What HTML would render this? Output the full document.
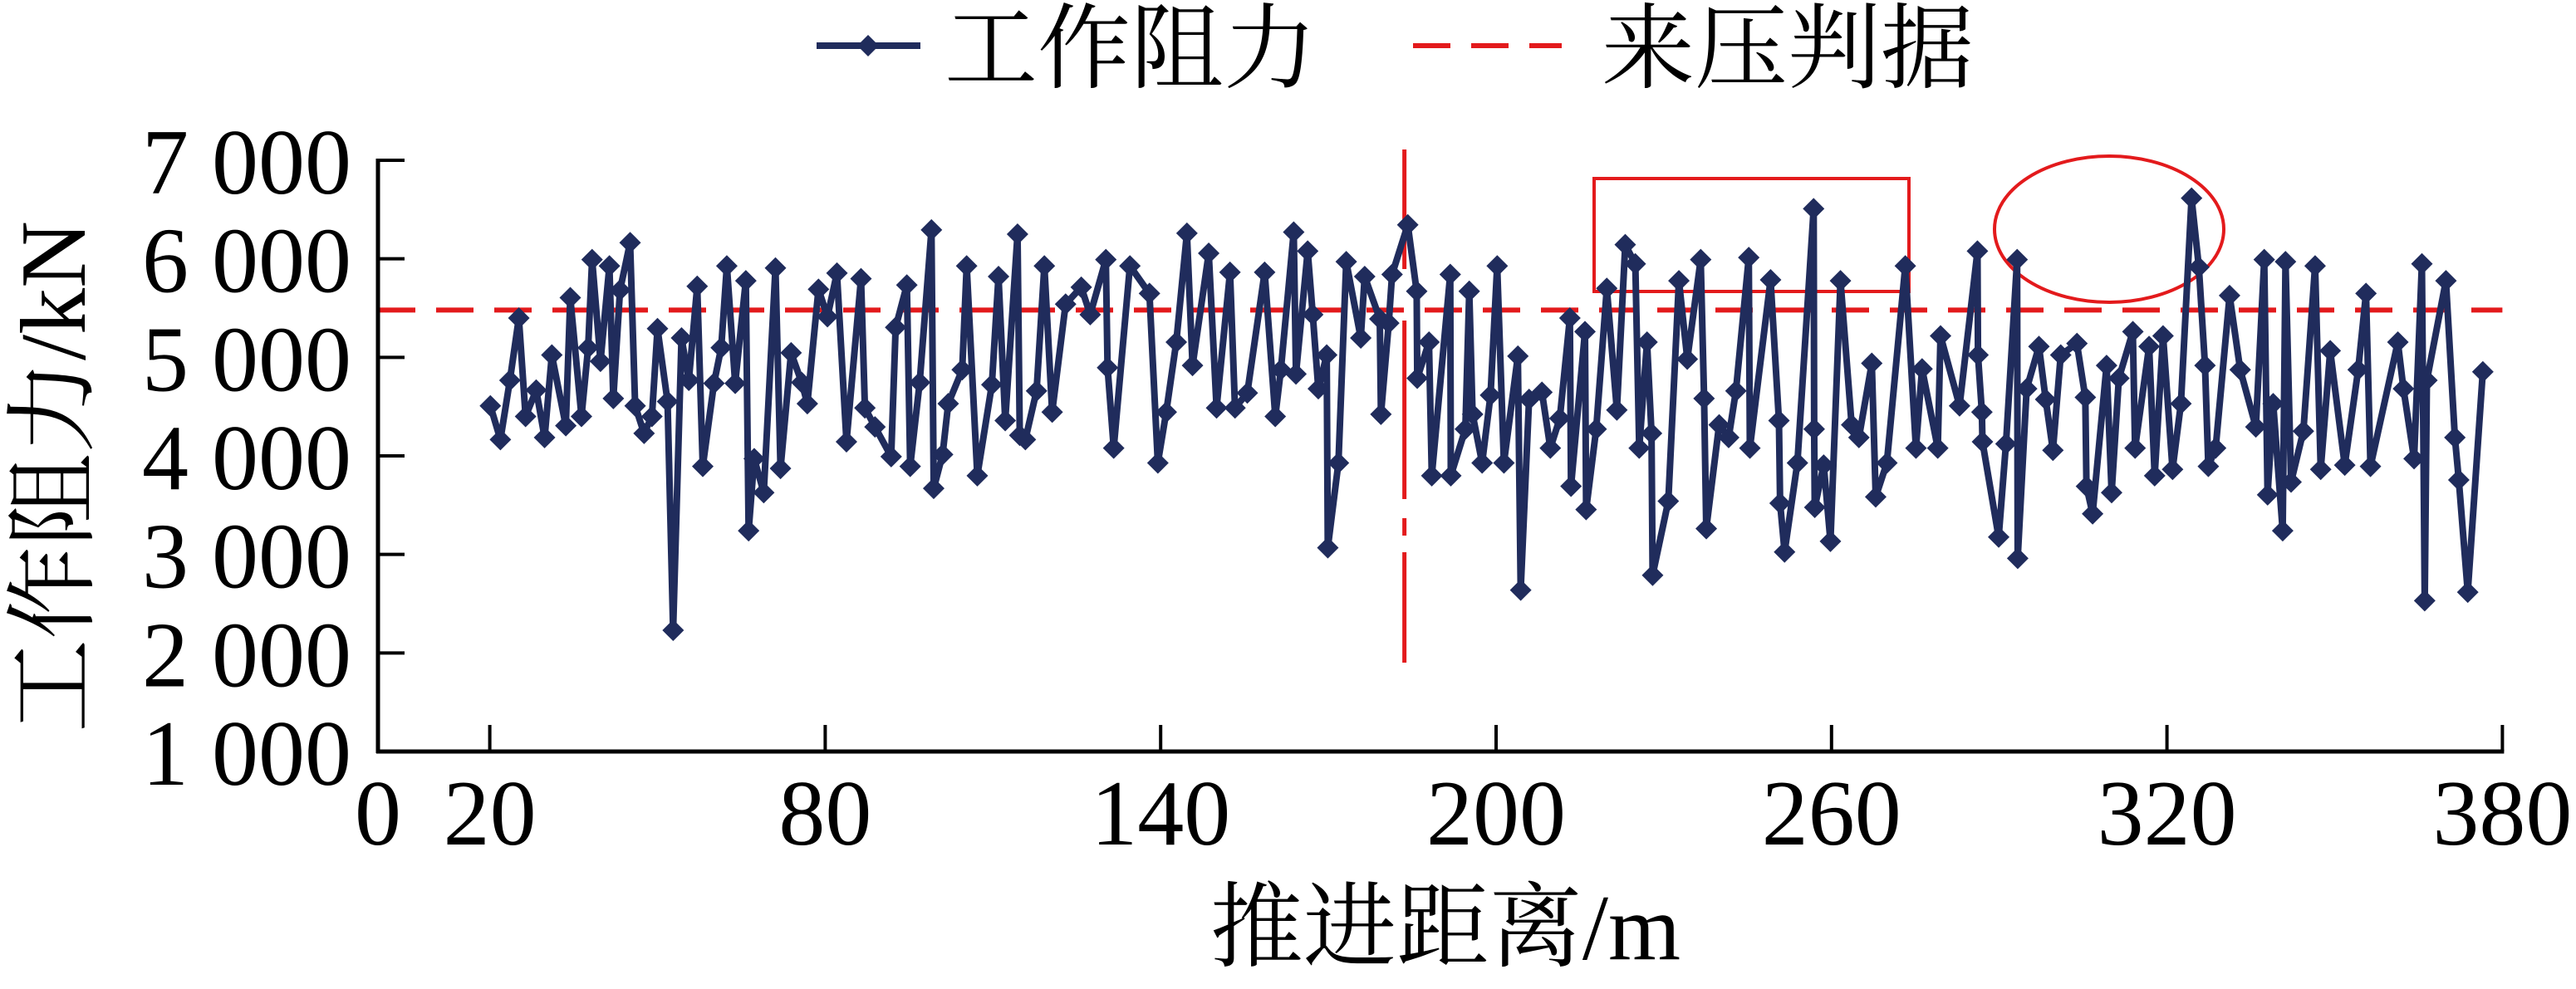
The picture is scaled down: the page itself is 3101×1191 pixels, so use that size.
<!DOCTYPE html>
<html><head><meta charset="utf-8"><style>
html,body{margin:0;padding:0;background:#fff;}
svg{display:block;}
text{font-family:"Liberation Serif","Noto Serif CJK SC",serif;fill:#000;}
</style></head><body>
<svg id="chart" width="3101" height="1191" viewBox="0 0 3101 1191" xmlns="http://www.w3.org/2000/svg">
<g id="plot"></g>
<g id="axes"></g>
<g id="legend">
  <line x1="983" y1="55" x2="1108" y2="55" stroke="#202c5c" stroke-width="8"/>
  <polygon points="1045,42 1058,55 1045,68 1032,55" fill="#202c5c"/>
  <text x="1137" y="97" font-size="112">工作阻力</text>
  <line x1="1701" y1="55" x2="1880" y2="55" stroke="#e31a1c" stroke-width="6" stroke-dasharray="45,25"/>
  <text x="1928" y="97" font-size="112">来压判据</text>
</g>
<text transform="translate(102,574) rotate(-90)" text-anchor="middle" font-size="112">工作阻力/kN</text>
<text x="1740" y="1155" text-anchor="middle" font-size="112">推进距离/m</text>
</svg>
<script>
const distance = [20.1,21.9,23.6,25.2,26.4,28.3,29.8,31.1,33.6,34.4,36.4,37.6,38.3,39.8,41.4,42.1,43.3,45.1,46.0,47.6,49.0,50.0,51.8,52.8,54.3,55.6,57.1,58.1,60.1,61.4,62.4,63.9,65.8,66.3,67.3,69.0,71.1,72.0,73.9,75.8,76.8,78.8,80.4,82.1,83.8,86.4,87.1,88.9,91.8,92.6,94.6,95.2,96.9,99.0,99.4,101.0,102.0,
104.5,105.3,107.2,109.8,111.0,112.2,114.4,114.8,115.8,117.8,119.2,120.6,123.0,125.8,127.4,130.2,130.5,131.6,134.5,138.0,139.5,141.0,142.8,144.7,145.7,148.6,150.0,152.4,153.3,155.5,158.6,160.5,161.5,163.8,164.2,166.3,167.2,168.2,169.7,169.9,171.8,173.2,175.8,176.5,179.2,179.4,180.8,181.4,184.2,185.8,185.9,188.0,188.5,191.8,191.9,194.5,195.2,195.8,197.5,199.0,200.2,
201.4,203.9,204.4,205.9,208.2,209.7,211.4,213.2,213.4,215.9,216.1,217.9,219.8,221.6,223.1,224.9,225.6,227.0,227.8,228.0,230.8,232.7,234.2,236.6,237.2,237.6,239.9,241.6,242.9,245.2,245.4,249.1,250.6,250.8,251.6,253.9,256.8,256.9,257.0,258.6,259.8,261.6,263.6,264.9,267.2,267.9,269.9,273.2,275.1,276.2,279.0,279.5,282.9,286.1,286.2,286.9,287.0,289.9,291.2,293.2,293.3,
294.9,297.1,298.3,299.6,301.0,303.9,305.4,305.6,306.7,309.2,310.1,311.4,313.9,314.3,316.8,317.8,319.3,321.0,322.5,324.4,325.7,326.8,327.4,328.7,331.2,333.1,335.9,337.4,338.0,339.0,340.7,341.2,342.2,344.4,346.5,347.5,349.2,351.8,354.2,355.6,356.4,361.3,362.3,364.2,365.6,366.1,366.5,369.9,371.5,372.2,373.8,376.5];
const resistance = [4508,4165,4767,5399,4400,4668,4186,5024,4306,5605,4400,5098,5992,4960,5928,4582,5682,6164,4508,4229,4400,5291,4552,2230,5197,4767,5721,3894,4736,5098,5928,4736,5777,3240,3971,3627,5906,3872,5046,4745,4530,5691,5412,5855,4143,5798,4487,4294,3993,5304,5734,3894,4745,6293,3670,4014,4530,
4874,5928,3799,4723,5820,4358,6250,4208,4165,4659,5928,4444,5540,5712,5433,5992,4895,4079,5928,5648,3928,4444,5154,6259,4917,6056,4487,5863,4487,4638,5863,4400,4874,6271,4831,6078,5433,4681,5024,3068,3928,5971,5197,5820,5390,4422,5347,5841,6345,5670,4788,5154,3799,5841,3799,4272,5670,4422,3928,4616,5928,
3928,5012,2638,4573,4646,4079,4380,5399,3692,5261,3455,4272,5700,4466,6143,5949,4079,5154,4229,2789,3541,5777,4982,5992,4582,3262,4315,4186,4659,6013,4079,5786,4358,3520,3025,3928,6508,4272,3477,3906,3133,5777,4315,4186,4939,3584,3928,5928,4079,4883,4079,5218,4508,6078,5024,4444,4143,3176,4122,5992,2960,
4681,5110,4573,4057,5024,5141,4594,3691,3412,4917,3627,4788,5261,4079,5110,3799,5218,3863,4530,6615,5915,4917,3894,4079,5627,4874,4294,5992,3605,4530,3240,5971,3734,4251,5928,3863,5067,3906,4874,5648,3894,5154,4681,3971,5949,2530,4767,5777,4186,3756,2617,4853];
const yTicks = [1000,2000,3000,4000,5000,6000,7000];
const yTickLabels = ["1 000","2 000","3 000","4 000","5 000","6 000","7 000"];
const xTicks = [20,80,140,200,260,320,380];
const xTickLabels = ["20","80","140","200","260","320","380"];
const criterion = [5480];
const pressureLine = [183.6];

const NS = "http://www.w3.org/2000/svg";
const X0 = 455, PXM = 6.73, Y0 = 905, PXV = 0.11867;
function xs(m){ return X0 + m*PXM; }
function ys(v){ return Y0 - (v-1000)*PXV; }
function mk(tag, attrs, parent){
  const e = document.createElementNS(NS, tag);
  for (const k in attrs) e.setAttribute(k, attrs[k]);
  parent.appendChild(e); return e;
}
const plot = document.getElementById('plot');
const axes = document.getElementById('axes');

const cl = mk('line', {x1:xs(0), x2:xs(380), y1:ys(criterion[0]), y2:ys(criterion[0]), stroke:'#e31a1c','stroke-width':6,'stroke-dasharray':'45,25'}, plot);



const vx = xs(pressureLine[0]);
const segs = [[180,324],[386,601],[624,645],[665,798]];
segs.forEach(s => {
  const l = mk('line', {x1:vx, x2:vx, y1:s[0], y2:s[1], stroke:'#e31a1c','stroke-width':5}, plot);
  
  
});

const rect = mk('rect', {x:1919, y:215, width:379, height:136, fill:'none', stroke:'#e31a1c','stroke-width':4}, plot);


const ell = mk('ellipse', {cx:2539, cy:276, rx:138, ry:88, fill:'none', stroke:'#e31a1c','stroke-width':4}, plot);



let d = '';
distance.forEach((m,i) => { d += (i?'L':'M') + xs(m).toFixed(1) + ',' + ys(resistance[i]).toFixed(1); });
const path = mk('path', {d:d, fill:'none', stroke:'#202c5c','stroke-width':8,'stroke-linejoin':'round'}, plot);


distance.forEach((m,i) => {
  const x = xs(m), y = ys(resistance[i]), r = 13;
  const p = mk('polygon', {points:`${x},${y-r} ${x+r},${y} ${x},${y+r} ${x-r},${y}`, fill:'#202c5c'}, plot);
  
  
});

const ya = mk('line', {x1:X0, x2:X0, y1:ys(7000)-2, y2:Y0+2, stroke:'#000','stroke-width':5}, axes);


const xa = mk('line', {x1:X0-2, x2:xs(380)+2, y1:Y0, y2:Y0, stroke:'#000','stroke-width':5}, axes);


yTicks.forEach((v,i) => {
  const t = mk('line', {x1:X0, x2:X0+32, y1:ys(v), y2:ys(v), stroke:'#000','stroke-width':4}, axes);
  
  
  const lb = mk('text', {x:423, y:ys(v)+40, 'text-anchor':'end','font-size':112}, axes);
  lb.textContent = yTickLabels[i];
  
  
});
xTicks.forEach((m,i) => {
  const t = mk('line', {x1:xs(m), x2:xs(m), y1:Y0, y2:Y0-32, stroke:'#000','stroke-width':4}, axes);
  
  
  const lb = mk('text', {x:xs(m), y:1017, 'text-anchor':'middle','font-size':112}, axes);
  lb.textContent = xTickLabels[i];
  
  
});
const z = mk('text', {x:X0, y:1017, 'text-anchor':'middle','font-size':112}, axes);
z.textContent = '0';


</script>
</body></html>
